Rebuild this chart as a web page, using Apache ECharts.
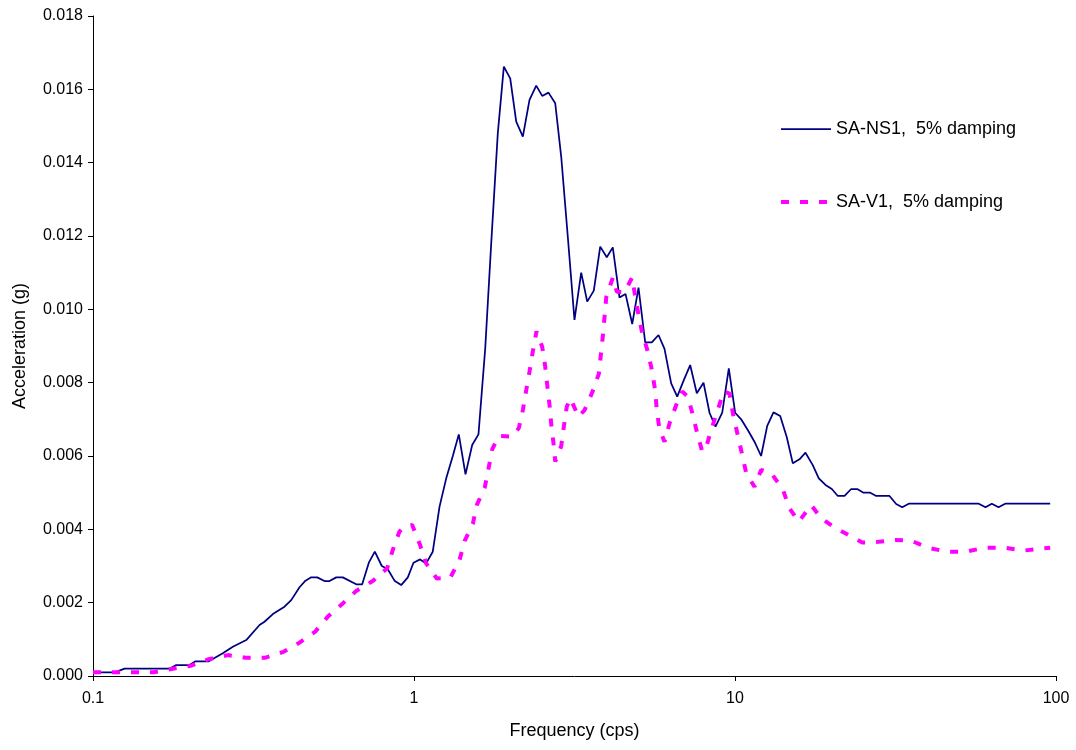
<!DOCTYPE html>
<html>
<head>
<meta charset="utf-8">
<script src="https://cdn.jsdelivr.net/npm/echarts@6/dist/echarts.min.js"></script>
<style>
html,body{margin:0;padding:0;background:#fff;}
#chart{width:1076px;height:750px;}
</style>
</head>
<body>
<div id="chart"></div>
<script>
// SA-NS1, 5% damping (frequency in cps, acceleration in g)
const nsFreq = [0.1,0.117,0.1254,0.1731,0.1816,0.1998,0.2086,0.2295,0.2537,0.2727,0.3002,0.3302,0.3422,0.3633,0.395,0.4145,0.4399,0.4592,0.4784,0.4994,0.5262,0.5455,0.5723,0.6001,0.6606,0.6897,0.7232,0.755,0.7938,0.8286,0.8694,0.9122,0.9566,0.9964,1.045,1.091,1.144,1.201,1.26,1.321,1.379,1.447,1.518,1.588,1.667,1.74,1.824,1.905,1.994,2.082,2.183,2.29,2.403,2.508,2.624,2.754,2.875,3.014,3.162,3.318,3.464,3.632,3.803,3.986,4.162,4.367,4.56,4.784,5.005,5.251,5.506,5.777,6.031,6.327,6.606,6.926,7.251,7.603,7.978,8.329,8.696,9.124,9.566,10.01,10.45,10.96,11.5,12.06,12.6,13.18,13.83,14.5,15.14,15.88,16.58,17.47,18.24,19.14,20.03,20.91,21.94,23.01,24.03,25.14,26.38,27.54,30.29,31.78,33.18,34.79,57.47,60.31,63.1,66.21,69.45,95.92];
const nsAcc = [0.0001,0.0001,0.0002,0.0002,0.0003,0.0003,0.0004,0.0004,0.00062,0.0008,0.00098,0.00139,0.00148,0.00169,0.00189,0.00207,0.00242,0.0026,0.00269,0.00269,0.00259,0.00259,0.00269,0.00269,0.0025,0.0025,0.00309,0.00339,0.003,0.00291,0.0026,0.00248,0.00269,0.00309,0.00318,0.00307,0.00339,0.00462,0.00539,0.006,0.00659,0.0055,0.0063,0.00659,0.00894,0.0118,0.0148,0.01662,0.0163,0.01512,0.01471,0.01571,0.0161,0.01582,0.01591,0.01562,0.01416,0.01198,0.00971,0.011,0.01021,0.01051,0.01171,0.01142,0.01169,0.01032,0.01042,0.0096,0.01059,0.0091,0.0091,0.0093,0.00892,0.00798,0.00762,0.00807,0.00848,0.00771,0.008,0.00718,0.0068,0.00718,0.00839,0.00718,0.007,0.00671,0.00639,0.006,0.00682,0.00719,0.00709,0.00651,0.0058,0.00591,0.00609,0.00575,0.00539,0.00521,0.0051,0.00491,0.00491,0.0051,0.0051,0.005,0.005,0.00491,0.00491,0.00469,0.0046,0.0047,0.0047,0.0046,0.0047,0.0046,0.0047,0.0047];

// SA-V1, 5% damping
const vFreq = [0.1,0.1543,0.1773,0.2022,0.2295,0.263,0.2987,0.3447,0.3922,0.4399,0.4923,0.5389,0.6001,0.6606,0.744,0.825,0.859,0.9011,0.941,0.9871,1.045,1.091,1.178,1.297,1.386,1.437,1.525,1.569,1.662,1.707,1.752,1.837,2.023,2.121,2.183,2.237,2.29,2.345,2.408,2.508,2.563,2.6,2.643,2.676,2.72,2.754,2.875,2.929,2.992,3.072,3.254,3.398,3.59,3.765,3.875,3.971,4.162,4.284,4.527,4.784,4.898,5.005,5.139,5.35,5.522,5.641,5.706,5.817,6.031,6.252,6.558,6.848,7.129,7.389,7.626,7.905,8.136,8.433,8.841,9.229,9.614,9.893,10.2,10.53,10.84,11.5,12.06,12.97,14.09,14.78,15.8,17.28,18.56,20.42,22.85,24.91,28.05,31.56,35.39,39.86,45.68,52.51,59.89,69.12,79.21,95.92];
const vAcc = [0.0001,0.0001,0.0002,0.00028,0.00046,0.00057,0.0005,0.0005,0.00066,0.00091,0.00121,0.00162,0.00198,0.00232,0.00259,0.00294,0.00344,0.00394,0.0041,0.00412,0.00357,0.00307,0.00266,0.00268,0.00316,0.00368,0.00415,0.00466,0.00515,0.00566,0.00618,0.00655,0.00653,0.00676,0.00725,0.0078,0.0083,0.00885,0.0094,0.00898,0.00844,0.00794,0.0074,0.00687,0.00635,0.00585,0.00627,0.0068,0.00735,0.00757,0.00707,0.00725,0.00773,0.00824,0.00927,0.01033,0.01086,0.01048,0.01047,0.01087,0.0103,0.00985,0.00935,0.00885,0.0083,0.00778,0.00726,0.00673,0.00639,0.00689,0.00739,0.00776,0.00762,0.00712,0.00662,0.00612,0.00625,0.00671,0.00727,0.00776,0.0077,0.00707,0.00657,0.00603,0.00553,0.00516,0.00562,0.00553,0.00509,0.00457,0.00421,0.00466,0.0043,0.00405,0.00382,0.00364,0.00366,0.00371,0.00369,0.0035,0.00339,0.00339,0.0035,0.0035,0.00342,0.0035];

const seriesNames = ['SA-NS1,  5% damping', 'SA-V1,  5% damping'];
const yTicks = [0, 0.018, 0.002];   // min, max, step
const xRange = [0.1, 100];

const zip = (a, b) => a.map((v, i) => [v, b[i]]);
const FONT = '"Liberation Sans", Arial, sans-serif';

const chart = echarts.init(document.getElementById('chart'), null, {renderer: 'canvas'});
chart.setOption({
  animation: false,
  backgroundColor: '#ffffff',
  textStyle: {fontFamily: FONT, color: '#000'},
  grid: {left: 93, right: 20, top: 16, bottom: 74, containLabel: false},
  legend: {
    orient: 'vertical',
    left: 779,
    top: 119,
    padding: 0,
    itemWidth: 50,
    itemHeight: 14,
    itemGap: 53,
    itemStyle: {opacity: 0},
    lineStyle: {width: 'inherit'},
    textStyle: {fontFamily: FONT, fontSize: 18, color: '#000', lineHeight: 20},
    data: seriesNames
  },
  xAxis: {
    type: 'log',
    logBase: 10,
    min: xRange[0],
    max: xRange[1],
    name: 'Frequency (cps)',
    nameLocation: 'middle',
    nameGap: 46,
    nameTextStyle: {fontFamily: FONT, fontSize: 18, color: '#000'},
    axisLine: {show: true, lineStyle: {color: '#000', width: 1}},
    axisTick: {show: true, inside: false, length: 5, lineStyle: {color: '#000'}},
    minorTick: {show: false},
    splitLine: {show: false},
    axisLabel: {
      margin: 15, fontSize: 16, color: '#000', fontFamily: FONT,
      formatter: v => String(Number(v.toPrecision(6)))
    }
  },
  yAxis: {
    type: 'value',
    min: yTicks[0],
    max: yTicks[1],
    interval: yTicks[2],
    name: 'Acceleration (g)',
    nameLocation: 'middle',
    nameGap: 64,
    nameTextStyle: {fontFamily: FONT, fontSize: 18, color: '#000'},
    axisLine: {show: true, lineStyle: {color: '#000', width: 1}},
    axisTick: {show: true, inside: false, length: 5, lineStyle: {color: '#000'}},
    splitLine: {show: false},
    axisLabel: {
      margin: 10, fontSize: 16, color: '#000', fontFamily: FONT,
      formatter: v => v.toFixed(3)
    }
  },
  series: [
    {
      name: seriesNames[0],
      type: 'line',
      data: zip(nsFreq, nsAcc),
      symbol: 'none',
      color: '#000080',
      lineStyle: {color: '#000080', width: 1.75}
    },
    {
      name: seriesNames[1],
      type: 'line',
      data: zip(vFreq, vAcc),
      symbol: 'none',
      color: '#FF00FF',
      lineStyle: {color: '#FF00FF', width: 4, type: [8, 11]}
    }
  ]
});
</script>
</body>
</html>
